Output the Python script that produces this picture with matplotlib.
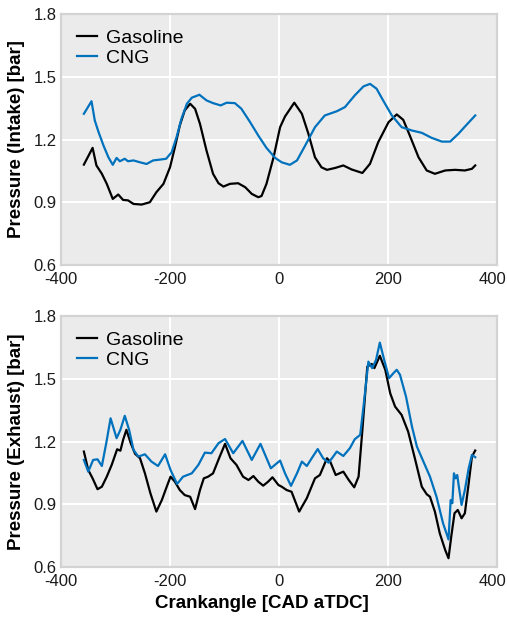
import matplotlib
matplotlib.use("Agg")
import matplotlib.pyplot as plt
from matplotlib.transforms import ScaledTranslation

plt.rcParams['font.family'] = ['Liberation Sans', 'DejaVu Sans']

# Intake pressure traces (crank angle in CAD aTDC, pressure in bar)
intake_gas_x = [-358, -342, -335, -325, -316, -305, -295, -286, -277, -267, -252, -237,
                -225, -212, -200, -191, -182, -173, -163, -154, -145, -133, -121, -111,
                -102, -90, -75, -62, -50, -38, -32, -23, -10, 2, 11, 28, 42, 54, 66, 78,
                88, 103, 118, 133, 153, 167, 182, 201, 216, 228, 240, 256, 271, 286, 305,
                323, 341, 354, 360]
intake_gas_y = [1.080, 1.160, 1.076, 1.036, 0.988, 0.916, 0.937, 0.911, 0.909, 0.892,
                0.889, 0.900, 0.948, 0.988, 1.067, 1.163, 1.267, 1.339, 1.371, 1.347,
                1.275, 1.147, 1.036, 0.991, 0.975, 0.988, 0.991, 0.972, 0.940, 0.924,
                0.930, 0.988, 1.115, 1.259, 1.310, 1.376, 1.323, 1.227, 1.115, 1.067,
                1.055, 1.064, 1.076, 1.057, 1.040, 1.084, 1.187, 1.283, 1.320, 1.294,
                1.219, 1.115, 1.052, 1.036, 1.052, 1.055, 1.052, 1.060, 1.076]

intake_cng_x = [-358, -344, -338, -331, -322, -313, -305, -298, -292, -283, -277, -267,
                -255, -243, -231, -218, -207, -197, -188, -179, -169, -160, -146, -133,
                -121, -107, -96, -81, -69, -53, -38, -23, -7, 5, 20, 33, 48, 66, 84, 106,
                121, 139, 155, 167, 179, 191, 207, 225, 244, 262, 280, 299, 314, 329,
                344, 360]
intake_cng_y = [1.323, 1.383, 1.291, 1.235, 1.171, 1.115, 1.079, 1.112, 1.096, 1.108,
                1.096, 1.100, 1.091, 1.083, 1.100, 1.104, 1.108, 1.139, 1.211, 1.299,
                1.371, 1.400, 1.414, 1.387, 1.374, 1.363, 1.376, 1.374, 1.347, 1.283,
                1.219, 1.160, 1.112, 1.091, 1.079, 1.100, 1.171, 1.259, 1.315, 1.335,
                1.355, 1.411, 1.454, 1.466, 1.443, 1.387, 1.315, 1.259, 1.243, 1.232,
                1.208, 1.190, 1.190, 1.227, 1.270, 1.315]

# Exhaust pressure traces
exhaust_gas_x = [-358, -350, -342, -333, -325, -316, -307, -297, -291, -286, -280, -272,
                 -264, -255, -246, -236, -225, -215, -206, -199, -191, -182, -173, -163,
                 -154, -145, -138, -130, -121, -110, -99, -89, -78, -66, -56, -47, -38,
                 -29, -20, -12, -1, 5, 14, 23, 37, 51, 66, 75, 88, 94, 104, 118, 128, 138,
                 146, 153, 162, 170, 175, 185, 195, 204, 213, 225, 237, 250, 262, 271, 277,
                 286, 295, 305, 311, 316, 322, 328, 335, 341, 348, 354, 360]
exhaust_gas_y = [1.152, 1.064, 1.024, 0.972, 0.984, 1.032, 1.088, 1.163, 1.156, 1.208,
                 1.256, 1.192, 1.141, 1.120, 1.048, 0.953, 0.865, 0.920, 0.984, 1.032,
                 1.008, 0.968, 0.944, 0.936, 0.877, 0.968, 1.024, 1.032, 1.048, 1.120,
                 1.189, 1.120, 1.088, 1.032, 1.016, 1.035, 1.008, 0.989, 1.008, 1.029,
                 0.992, 0.984, 0.968, 0.960, 0.865, 0.929, 1.024, 1.040, 1.120, 1.104,
                 1.040, 1.056, 1.016, 0.981, 1.032, 1.256, 1.558, 1.571, 1.551, 1.610,
                 1.543, 1.431, 1.367, 1.327, 1.247, 1.112, 0.984, 0.948, 0.936, 0.865,
                 0.761, 0.681, 0.642, 0.745, 0.857, 0.873, 0.833, 0.857, 1.000, 1.128,
                 1.157]

exhaust_cng_x = [-358, -350, -341, -333, -325, -317, -309, -298, -291, -283, -275, -267,
                 -258, -246, -234, -222, -209, -199, -187, -176, -160, -148, -136, -124,
                 -111, -99, -84, -67, -50, -34, -15, 2, 11, 22, 33, 42, 51, 60, 71, 81, 91,
                 98, 106, 118, 130, 139, 149, 155, 164, 171, 178, 185, 193, 202, 210, 216,
                 222, 233, 244, 253, 265, 277, 289, 301, 311, 315, 318, 321, 324, 327, 330,
                 335, 341, 348, 354, 360]
exhaust_cng_y = [1.112, 1.056, 1.112, 1.115, 1.083, 1.192, 1.311, 1.216, 1.256, 1.323,
                 1.256, 1.160, 1.128, 1.139, 1.104, 1.083, 1.139, 1.064, 0.997, 1.032,
                 1.048, 1.088, 1.147, 1.144, 1.192, 1.212, 1.144, 1.203, 1.112, 1.189,
                 1.072, 1.109, 1.048, 0.988, 1.048, 1.104, 1.083, 1.120, 1.164, 1.120,
                 1.099, 1.123, 1.152, 1.131, 1.168, 1.211, 1.232, 1.367, 1.582, 1.551,
                 1.590, 1.673, 1.590, 1.503, 1.527, 1.543, 1.519, 1.415, 1.271, 1.176,
                 1.104, 1.032, 0.936, 0.809, 0.732, 0.920, 0.905, 1.048, 1.024, 1.040,
                 0.984, 0.897, 0.968, 1.072, 1.136, 1.125]

x_ticks = [-400, -200, 0, 200, 400]
y_ticks = [0.6, 0.9, 1.2, 1.5, 1.8]
series_labels = ["Gasoline", "CNG"]
colors = ["#000000", "#0072BD"]

fig = plt.figure(figsize=(5.07, 6.18), dpi=100)
ax_top = fig.add_axes([0.1203, 0.5712, 0.860, 0.4061])
ax_bot = fig.add_axes([0.1203, 0.0825, 0.860, 0.4061])

panels = [
    (ax_top, (intake_gas_x, intake_gas_y), (intake_cng_x, intake_cng_y), "Pressure (Intake) [bar]"),
    (ax_bot, (exhaust_gas_x, exhaust_gas_y), (exhaust_cng_x, exhaust_cng_y), "Pressure (Exhaust) [bar]"),
]

for ax, gas, cng, ylabel in panels:
    ax.set_facecolor("#EBEBEB")
    ax.plot(gas[0], gas[1], color=colors[0], lw=1.6, label=series_labels[0], zorder=3,
            solid_joinstyle="round")
    ax.plot(cng[0], cng[1], color=colors[1], lw=1.6, label=series_labels[1], zorder=3,
            solid_joinstyle="round")
    ax.set_xlim(-400, 400)
    ax.set_ylim(0.6, 1.8)
    ax.set_xticks(x_ticks)
    ax.set_yticks(y_ticks)
    ax.set_xticklabels([str(t) for t in x_ticks])
    ax.set_yticklabels([f"{t:.1f}" for t in y_ticks])
    ax.grid(True, color="white", lw=1.5, zorder=0)
    ax.set_axisbelow(True)
    ax.tick_params(length=0, labelsize=12, colors="#1a1a1a")
    ax.tick_params(axis="x", pad=5)
    ax.tick_params(axis="y", pad=3)
    for s in ax.spines.values():
        s.set_color("#D3D3D3")
        s.set_linewidth(1.6)
    ax.set_ylabel(ylabel, fontsize=13.5, fontweight="bold")
    ax.yaxis.set_label_coords(-0.082, 0.5)
    ax.legend(loc="upper left", frameon=False, fontsize=14, handlelength=1.03,
              handletextpad=0.5, labelspacing=0.1, borderaxespad=0.6, borderpad=0.2)
    # keep the rightmost tick label inside the figure
    last = ax.get_xticklabels()[-1]
    last.set_transform(last.get_transform() + ScaledTranslation(-5 / 100, 0, fig.dpi_scale_trans))

ax_bot.set_xlabel("Crankangle [CAD aTDC]", fontsize=13.5, fontweight="bold")
ax_bot.xaxis.set_label_coords(0.461, -0.147)
ax_bot.xaxis.label.set_verticalalignment("center")

fig.savefig("out.png", dpi=100)
